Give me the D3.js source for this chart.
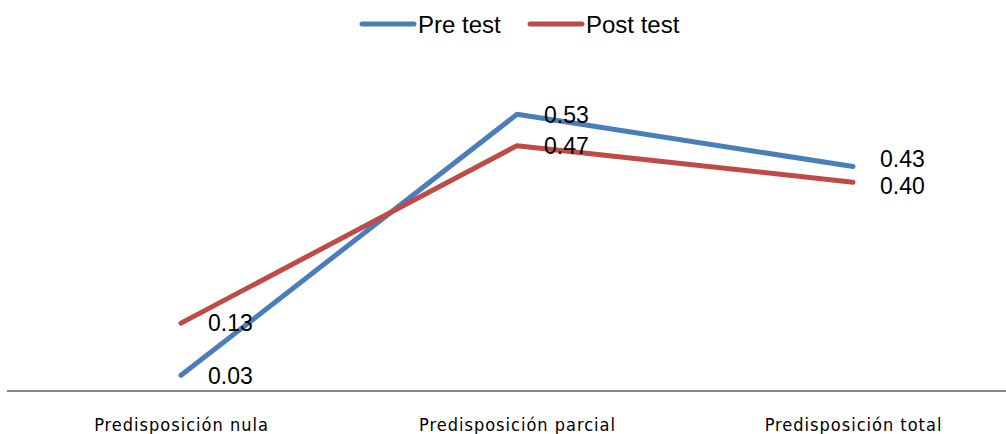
<!DOCTYPE html>
<html>
<head>
<meta charset="utf-8">
<script src="https://cdn.jsdelivr.net/npm/d3@7"></script>
<style>
  body { margin: 0; background: #fff; }
  svg { display: block; }
</style>
</head>
<body>
<div id="chart"></div>
<script>
// data
const categories = ['Predisposición nula', 'Predisposición parcial', 'Predisposición total']
const preTest = [0.03, 0.53, 0.43]
const postTest = [0.13, 0.47, 0.40]
const seriesNames = ['Pre test', 'Post test']
const seriesColors = ['#4A7EBB', '#BE4B48']

const width = 1006, height = 434

const svg = d3.select('#chart').append('svg')
    .attr('width', width)
    .attr('height', height)

// scales
const x = d3.scalePoint()
    .domain(categories)
    .range([181, 853])

const y = d3.scaleLinear()
    .domain([0, 0.5])
    .range([391, 130])

// axis line + category labels
const xAxis = svg.append('g')
    .attr('transform', 'translate(0,' + y(0) + ')')
    .call(d3.axisBottom(x).tickSize(0).tickPadding(27))
xAxis.select('.domain').remove()
xAxis.append('line')
    .attr('x1', 7).attr('x2', width)
    .attr('stroke', '#888').attr('stroke-width', 2)
xAxis.selectAll('.tick text')
    .attr('font-family', '"DejaVu Sans Condensed", "Liberation Sans Narrow", sans-serif')
    .attr('font-size', 18)
    .attr('letter-spacing', 1)
    .attr('fill', '#000')

const series = [
    { name: seriesNames[0], values: preTest, color: seriesColors[0] },
    { name: seriesNames[1], values: postTest, color: seriesColors[1] }
]

const line = d3.line()
    .x((d, i) => x(categories[i]))
    .y(d => y(d))

svg.selectAll('.series')
    .data(series)
    .enter().append('path')
    .attr('class', 'series')
    .attr('d', d => line(d.values))
    .attr('fill', 'none')
    .attr('stroke', d => d.color)
    .attr('stroke-width', 5)
    .attr('stroke-linecap', 'round')
    .attr('stroke-linejoin', 'round')

// data labels, pushed apart when two labels at a category overlap
let labels = []
series.forEach((s, si) => {
    s.values.forEach((v, i) => {
        labels.push({ v: v, i: i, si: si, ly: y(v) })
    })
})
categories.forEach((c, i) => {
    const ls = labels.filter(l => l.i == i).sort((a, b) => a.ly - b.ly)
    for (let k = 1; k < ls.length; k++) {
        const gap = ls[k].ly - ls[k - 1].ly
        if (gap < 27) {
            // move the upper label up, lower one a little down
            ls[k - 1].ly -= (27 - gap) * 0.7
            ls[k].ly += (27 - gap) * 0.3
        }
    }
})

svg.selectAll('.label')
    .data(labels)
    .enter().append('text')
    .attr('class', 'label')
    .attr('x', d => x(categories[d.i]) + 27)
    .attr('y', d => d.ly)
    .attr('dy', '0.36em')
    .attr('font-family', '"Liberation Sans", Arial, sans-serif')
    .attr('font-size', 23)
    .attr('fill', '#000')
    .text(d => d3.format('.2f')(d.v))

// legend
const legend = svg.append('g')
const legendX = [362, 530]
series.forEach((s, si) => {
    const g = legend.append('g').attr('transform', 'translate(' + legendX[si] + ',24)')
    g.append('line')
        .attr('x1', 0).attr('x2', 52)
        .attr('stroke', s.color)
        .attr('stroke-width', 5)
        .attr('stroke-linecap', 'round')
    g.append('text')
        .attr('x', 56)
        .attr('dy', '0.36em')
        .attr('font-family', '"Liberation Sans", Arial, sans-serif')
        .attr('font-size', 24)
        .attr('fill', '#000')
        .text(s.name)
})
</script>
</body>
</html>
